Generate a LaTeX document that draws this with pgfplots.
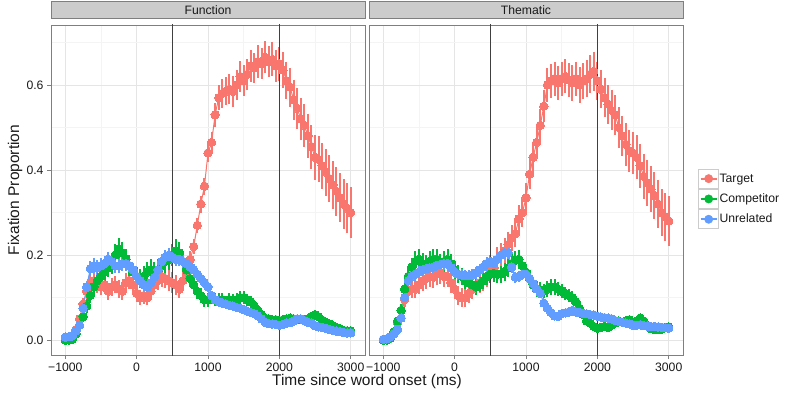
\documentclass[border=0pt]{standalone}
\usepackage{fontspec}
\setmainfont{Liberation Sans}
\usepackage{pgfplots}
\usepackage{pgfplotstable}
\pgfplotsset{compat=1.18}
\definecolor{tRed}{HTML}{F8766D}
\definecolor{cGreen}{HTML}{00BA38}
\definecolor{uBlue}{HTML}{619CFF}
\definecolor{g50}{HTML}{7F7F7F}
\definecolor{g80}{HTML}{CCCCCC}
\definecolor{g90}{HTML}{E5E5E5}
\definecolor{g96}{HTML}{F4F4F4}
\definecolor{txt}{HTML}{1A1A1A}

\pgfplotstableread{
t tv te cv ce uv ue
-1000 0.005 0.004 0.000 0.003 0.007 0.003
-950 0.004 0.004 0.000 0.003 0.008 0.003
-900 0.008 0.005 0.002 0.004 0.010 0.004
-850 0.025 0.008 0.015 0.007 0.022 0.006
-800 0.050 0.012 0.035 0.010 0.035 0.008
-750 0.085 0.015 0.055 0.013 0.075 0.012
-700 0.115 0.018 0.080 0.016 0.125 0.015
-650 0.135 0.020 0.105 0.018 0.168 0.018
-600 0.140 0.022 0.125 0.020 0.175 0.018
-550 0.130 0.020 0.140 0.020 0.170 0.018
-500 0.125 0.020 0.150 0.022 0.175 0.018
-450 0.130 0.022 0.160 0.022 0.180 0.018
-400 0.115 0.020 0.170 0.022 0.190 0.018
-350 0.125 0.022 0.180 0.024 0.185 0.018
-300 0.130 0.020 0.200 0.025 0.175 0.017
-250 0.120 0.022 0.215 0.026 0.175 0.017
-200 0.115 0.020 0.205 0.025 0.180 0.017
-150 0.135 0.022 0.190 0.024 0.180 0.017
-100 0.140 0.020 0.175 0.024 0.175 0.016
-50 0.130 0.022 0.160 0.022 0.165 0.016
0 0.110 0.020 0.150 0.022 0.150 0.015
50 0.100 0.018 0.145 0.022 0.140 0.015
100 0.105 0.020 0.150 0.024 0.130 0.015
150 0.100 0.018 0.160 0.024 0.125 0.015
200 0.115 0.020 0.165 0.025 0.135 0.015
250 0.130 0.022 0.160 0.024 0.148 0.016
300 0.140 0.022 0.165 0.025 0.165 0.016
350 0.150 0.024 0.175 0.025 0.185 0.017
400 0.145 0.022 0.185 0.026 0.195 0.017
450 0.140 0.024 0.190 0.025 0.200 0.017
500 0.135 0.025 0.200 0.026 0.195 0.016
550 0.130 0.024 0.210 0.027 0.190 0.016
600 0.120 0.022 0.205 0.026 0.190 0.016
650 0.140 0.022 0.185 0.025 0.185 0.015
700 0.160 0.020 0.165 0.022 0.180 0.015
750 0.190 0.020 0.145 0.020 0.172 0.014
800 0.220 0.018 0.130 0.020 0.165 0.014
850 0.270 0.018 0.115 0.018 0.155 0.013
900 0.320 0.020 0.105 0.018 0.145 0.013
950 0.362 0.020 0.095 0.016 0.135 0.012
1000 0.440 0.022 0.095 0.016 0.125 0.012
1050 0.465 0.025 0.100 0.016 0.105 0.011
1100 0.530 0.028 0.095 0.015 0.095 0.011
1150 0.570 0.030 0.095 0.015 0.090 0.010
1200 0.580 0.035 0.095 0.015 0.087 0.010
1250 0.585 0.033 0.090 0.014 0.085 0.010
1300 0.590 0.035 0.095 0.015 0.082 0.010
1350 0.585 0.036 0.095 0.014 0.080 0.010
1400 0.600 0.035 0.095 0.015 0.077 0.009
1450 0.620 0.037 0.100 0.015 0.075 0.009
1500 0.610 0.036 0.100 0.015 0.072 0.009
1550 0.625 0.037 0.095 0.014 0.068 0.009
1600 0.645 0.038 0.090 0.013 0.065 0.008
1650 0.640 0.036 0.080 0.012 0.062 0.008
1700 0.655 0.038 0.070 0.012 0.057 0.008
1750 0.650 0.037 0.060 0.010 0.050 0.007
1800 0.665 0.038 0.052 0.010 0.042 0.007
1850 0.655 0.037 0.050 0.009 0.039 0.006
1900 0.660 0.040 0.048 0.009 0.038 0.006
1950 0.645 0.038 0.048 0.009 0.037 0.006
2000 0.650 0.040 0.046 0.009 0.035 0.006
2050 0.635 0.042 0.047 0.009 0.037 0.006
2100 0.610 0.044 0.050 0.009 0.040 0.006
2150 0.595 0.046 0.052 0.009 0.041 0.006
2200 0.565 0.047 0.050 0.009 0.045 0.006
2250 0.545 0.048 0.048 0.008 0.050 0.006
2300 0.520 0.049 0.048 0.008 0.050 0.006
2350 0.505 0.050 0.047 0.008 0.046 0.006
2400 0.480 0.051 0.050 0.009 0.042 0.006
2450 0.455 0.052 0.056 0.009 0.040 0.005
2500 0.430 0.053 0.060 0.010 0.034 0.005
2550 0.425 0.054 0.055 0.009 0.031 0.005
2600 0.410 0.054 0.047 0.008 0.030 0.005
2650 0.395 0.055 0.042 0.008 0.028 0.005
2700 0.380 0.055 0.038 0.007 0.025 0.004
2750 0.365 0.056 0.034 0.007 0.023 0.004
2800 0.350 0.057 0.030 0.006 0.021 0.004
2850 0.335 0.057 0.027 0.006 0.020 0.004
2900 0.320 0.058 0.023 0.005 0.018 0.004
2950 0.310 0.059 0.022 0.005 0.017 0.004
3000 0.300 0.060 0.022 0.005 0.017 0.004
}\funcdata

\pgfplotstableread{
t tv te cv ce uv ue
-1000 0.000 0.003 0.000 0.003 0.002 0.003
-950 0.000 0.003 0.000 0.003 0.003 0.003
-900 0.004 0.004 0.005 0.005 0.008 0.004
-850 0.015 0.007 0.020 0.008 0.015 0.006
-800 0.040 0.010 0.045 0.012 0.025 0.008
-750 0.070 0.014 0.070 0.015 0.052 0.010
-700 0.095 0.018 0.120 0.018 0.100 0.012
-650 0.115 0.020 0.150 0.020 0.140 0.014
-600 0.120 0.022 0.172 0.022 0.150 0.014
-550 0.120 0.022 0.185 0.024 0.155 0.015
-500 0.130 0.022 0.190 0.025 0.160 0.015
-450 0.140 0.024 0.180 0.024 0.165 0.015
-400 0.145 0.024 0.175 0.024 0.168 0.015
-350 0.150 0.025 0.185 0.024 0.170 0.015
-300 0.148 0.025 0.190 0.025 0.172 0.015
-250 0.155 0.026 0.190 0.024 0.176 0.015
-200 0.158 0.025 0.180 0.023 0.178 0.015
-150 0.150 0.026 0.185 0.024 0.180 0.015
-100 0.150 0.025 0.190 0.024 0.180 0.015
-50 0.135 0.025 0.180 0.023 0.170 0.014
0 0.120 0.024 0.165 0.022 0.160 0.014
50 0.105 0.022 0.155 0.021 0.155 0.014
100 0.100 0.022 0.150 0.020 0.153 0.014
150 0.100 0.022 0.140 0.020 0.152 0.014
200 0.110 0.022 0.135 0.019 0.152 0.014
250 0.120 0.023 0.130 0.018 0.153 0.014
300 0.130 0.024 0.125 0.018 0.158 0.014
350 0.135 0.024 0.130 0.018 0.165 0.014
400 0.140 0.025 0.140 0.019 0.172 0.015
450 0.150 0.025 0.150 0.020 0.180 0.015
500 0.160 0.026 0.155 0.020 0.185 0.015
550 0.170 0.027 0.157 0.020 0.180 0.015
600 0.190 0.028 0.155 0.020 0.190 0.015
650 0.200 0.028 0.155 0.020 0.200 0.015
700 0.210 0.030 0.160 0.021 0.205 0.015
750 0.225 0.030 0.170 0.022 0.205 0.015
800 0.240 0.030 0.180 0.022 0.172 0.014
850 0.250 0.032 0.188 0.022 0.148 0.013
900 0.285 0.032 0.190 0.022 0.150 0.013
950 0.300 0.033 0.175 0.021 0.155 0.013
1000 0.335 0.034 0.160 0.020 0.155 0.013
1050 0.390 0.035 0.145 0.019 0.145 0.012
1100 0.430 0.036 0.130 0.018 0.133 0.012
1150 0.465 0.037 0.120 0.018 0.120 0.011
1200 0.505 0.038 0.118 0.018 0.110 0.011
1250 0.550 0.038 0.115 0.017 0.087 0.010
1300 0.600 0.040 0.120 0.018 0.075 0.010
1350 0.610 0.040 0.125 0.018 0.065 0.009
1400 0.615 0.040 0.125 0.018 0.057 0.009
1450 0.605 0.040 0.120 0.017 0.056 0.009
1500 0.615 0.040 0.115 0.017 0.062 0.009
1550 0.620 0.040 0.110 0.016 0.064 0.009
1600 0.612 0.040 0.105 0.016 0.066 0.009
1650 0.605 0.042 0.100 0.015 0.070 0.009
1700 0.615 0.040 0.090 0.014 0.066 0.009
1750 0.600 0.042 0.075 0.013 0.065 0.009
1800 0.610 0.042 0.060 0.011 0.063 0.008
1850 0.615 0.044 0.045 0.010 0.062 0.008
1900 0.625 0.045 0.040 0.009 0.060 0.008
1950 0.632 0.046 0.032 0.008 0.059 0.008
2000 0.610 0.045 0.028 0.008 0.056 0.008
2050 0.590 0.045 0.030 0.008 0.054 0.008
2100 0.570 0.046 0.032 0.008 0.053 0.008
2150 0.555 0.046 0.030 0.008 0.052 0.008
2200 0.540 0.047 0.035 0.008 0.050 0.007
2250 0.530 0.047 0.040 0.008 0.046 0.007
2300 0.500 0.048 0.045 0.008 0.044 0.007
2350 0.480 0.048 0.042 0.008 0.042 0.007
2400 0.460 0.050 0.045 0.008 0.040 0.007
2450 0.445 0.050 0.048 0.008 0.038 0.006
2500 0.440 0.050 0.042 0.008 0.035 0.006
2550 0.430 0.052 0.045 0.008 0.035 0.006
2600 0.410 0.052 0.052 0.008 0.036 0.006
2650 0.385 0.053 0.045 0.007 0.034 0.006
2700 0.370 0.054 0.035 0.007 0.033 0.006
2750 0.355 0.054 0.027 0.006 0.032 0.006
2800 0.340 0.055 0.025 0.006 0.032 0.006
2850 0.320 0.056 0.025 0.006 0.031 0.006
2900 0.300 0.056 0.026 0.006 0.030 0.006
2950 0.290 0.057 0.030 0.006 0.029 0.006
3000 0.280 0.058 0.031 0.006 0.028 0.006
}\themdata

\pgfplotsset{
  ser/.style={color=#1, line width=1pt, mark=*, mark size=4.2pt,
    mark options={solid, fill=#1, draw=#1, line width=0pt},
    error bars/y dir=both, error bars/y explicit,
    error bars/error mark=none,
    error bars/error bar style={line width=2pt, #1}},
  panel/.style={
    scale only axis, width=314pt, height=330pt,
    xmin=-1200, xmax=3200, ymin=-0.035, ymax=0.741,
    xtick={-1000,0,1000,2000,3000},
    xticklabels={−1000,0,1000,2000,3000},
    minor xtick={-500,500,1500,2500},
    ytick={0,0.2,0.4,0.6},
    minor ytick={0.1,0.3,0.5,0.7},
    grid=both,
    major grid style={g90, line width=0.9pt},
    minor grid style={g96, line width=0.9pt},
    tick align=outside, tick pos=left,
    major tick length=4pt, minor tick length=0pt,
    tick style={g50, line width=0.8pt},
    axis line style={g50, line width=0.9pt},
    tick label style={font=\fontsize{12.2}{13}\selectfont, text=txt},
    title style={at={(0.5,1)}, anchor=south, fill=g80, draw=g50, line width=0.8pt,
      minimum width=314pt, minimum height=17pt, inner sep=0pt,
      font=\fontsize{12.2}{13}\selectfont, text=txt},
    clip=true,
  },
  vline/.style={black!75, line width=1.5pt, forget plot},
}

\begin{document}
\begin{tikzpicture}
\useasboundingbox (0,0) rectangle (785pt,392pt);

\begin{axis}[panel, at={(51pt,37pt)}, anchor=south west, title={Function},
  yticklabels={0.0,0.2,0.4,0.6}]
\addplot[ser=tRed] table[x=t, y=tv, y error=te] {\funcdata};
\addplot[ser=cGreen] table[x=t, y=cv, y error=ce] {\funcdata};
\addplot[ser=uBlue] table[x=t, y=uv, y error=ue] {\funcdata};
\addplot[vline] coordinates {(500,-0.1) (500,1)};
\addplot[vline] coordinates {(2000,-0.1) (2000,1)};
\end{axis}

\begin{axis}[panel, at={(369pt,37pt)}, anchor=south west, title={Thematic},
  yticklabels={}, ytick style={draw=none},
  legend style={at={(axis description cs:1.048,0.565)}, anchor=north west,
    draw=none, fill=none, row sep=0.5pt, inner sep=0pt,
    nodes={inner sep=0.5pt, text=txt},
    font=\fontsize{12.2}{13}\selectfont},
  legend cell align=left]
\addplot[ser=tRed, forget plot] table[x=t, y=tv, y error=te] {\themdata};
\addplot[ser=cGreen, forget plot] table[x=t, y=cv, y error=ce] {\themdata};
\addplot[ser=uBlue, forget plot] table[x=t, y=uv, y error=ue] {\themdata};
\addplot[vline] coordinates {(500,-0.1) (500,1)};
\addplot[vline] coordinates {(2000,-0.1) (2000,1)};
\addlegendimage{legend image code/.code={
  \draw[g80, fill=white, line width=0.8pt] (0pt,-9.5pt) rectangle (20pt,9.5pt);
  \draw[tRed, line width=1.8pt] (2pt,0pt) -- (18pt,0pt);
  \fill[tRed] (10pt,0pt) circle (4.2pt);}}
\addlegendentry{Target}
\addlegendimage{legend image code/.code={
  \draw[g80, fill=white, line width=0.8pt] (0pt,-9.5pt) rectangle (20pt,9.5pt);
  \draw[cGreen, line width=1.8pt] (2pt,0pt) -- (18pt,0pt);
  \fill[cGreen] (10pt,0pt) circle (4.2pt);}}
\addlegendentry{Competitor}
\addlegendimage{legend image code/.code={
  \draw[g80, fill=white, line width=0.8pt] (0pt,-9.5pt) rectangle (20pt,9.5pt);
  \draw[uBlue, line width=1.8pt] (2pt,0pt) -- (18pt,0pt);
  \fill[uBlue] (10pt,0pt) circle (4.2pt);}}
\addlegendentry{Unrelated}
\node[anchor=base west, inner sep=0pt, font=\bfseries\fontsize{12.2}{13}\selectfont, text=txt]
  at (axis description cs:1.048,0.5818) {Object};
\end{axis}

\node[font=\fontsize{15.5}{17}\selectfont, text=txt] at (367pt,11pt) {Time since word onset (ms)};
\node[font=\fontsize{15.5}{17}\selectfont, text=txt, rotate=90] at (15pt,202pt) {Fixation Proportion};
\end{tikzpicture}
\end{document}
